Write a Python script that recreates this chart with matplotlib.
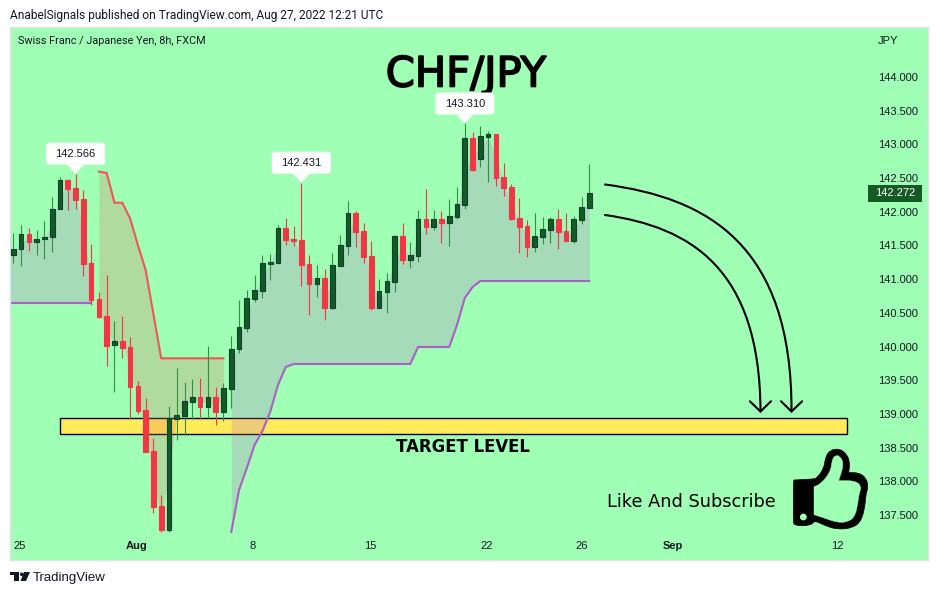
import matplotlib
matplotlib.use('Agg')
import matplotlib.pyplot as plt
import numpy as np
from matplotlib.patches import Rectangle, Polygon, Circle, FancyBboxPatch, FancyArrowPatch, PathPatch
from matplotlib.path import Path
from matplotlib.transforms import Affine2D, IdentityTransform
import matplotlib.patheffects as pe

# CHF/JPY 8h candles
opens = [141.363, 141.443, 141.670, 141.556, 141.591, 141.621, 142.037, 142.471, 142.353, 142.185,
         141.235, 140.705, 140.453, 140.018, 140.077, 139.988, 139.414, 139.058, 138.449, 137.633,
         137.277, 138.929, 138.973, 139.181, 139.246, 139.107, 139.246, 139.033, 139.374, 139.959,
         140.279, 140.710, 140.828, 141.229, 141.244, 141.759, 141.596, 141.581, 141.225, 140.928,
         141.017, 140.572, 141.195, 141.492, 141.982, 141.714, 141.343, 140.572, 140.809, 140.958,
         141.640, 141.284, 141.348, 141.893, 141.774, 141.893, 141.838, 141.922, 142.105, 143.095,
         142.787, 143.114, 143.154, 142.516, 142.367, 141.907, 141.789, 141.477, 141.630, 141.734,
         141.893, 141.714, 141.566, 141.882, 142.060]
highs = [141.680, 141.804, 141.755, 141.729, 141.863, 142.215, 142.511, 142.486, 142.566, 142.319,
         141.517, 140.805, 141.057, 140.379, 140.453, 140.137, 139.488, 139.232, 138.642, 137.796,
         139.117, 139.681, 139.473, 139.518, 139.533, 140.008, 139.399, 139.454, 140.156, 140.690,
         140.839, 141.061, 141.358, 141.373, 141.804, 141.907, 141.789, 142.431, 141.358, 141.210,
         141.151, 141.388, 141.655, 142.160, 142.011, 141.833, 141.566, 141.002, 141.091, 141.655,
         141.833, 141.551, 142.026, 142.338, 142.026, 142.011, 142.189, 142.367, 143.310, 143.184,
         143.273, 143.194, 143.154, 142.724, 142.412, 142.204, 141.878, 141.982, 141.922, 141.922,
         142.041, 141.982, 141.937, 142.219, 142.709]
lows = [141.244, 141.200, 141.422, 141.363, 141.303, 141.407, 142.037, 142.026, 142.041, 141.051,
        140.616, 140.423, 139.715, 139.329, 139.834, 138.929, 138.999, 138.435, 137.534, 137.247,
        137.247, 138.613, 138.687, 138.924, 138.924, 138.939, 138.835, 138.895, 139.088, 139.904,
        140.220, 140.665, 140.725, 140.987, 141.244, 141.507, 141.492, 140.898, 140.468, 140.735,
        140.394, 140.557, 141.195, 141.358, 141.477, 141.240, 140.542, 140.572, 140.498, 140.809,
        141.225, 141.165, 141.254, 141.670, 141.729, 141.536, 141.492, 141.893, 142.041, 142.605,
        142.664, 142.442, 142.382, 142.234, 141.878, 141.388, 141.329, 141.403, 141.522, 141.536,
        141.447, 141.566, 141.536, 141.818, 142.060]
closes = [141.443, 141.665, 141.551, 141.591, 141.621, 142.037, 142.467, 142.338, 142.175, 141.229,
          140.690, 140.438, 140.012, 140.077, 139.978, 139.404, 139.043, 138.435, 137.618, 137.277,
          138.939, 138.979, 139.187, 139.246, 139.102, 139.246, 139.028, 139.380, 139.959, 140.285,
          140.716, 140.834, 141.235, 141.254, 141.755, 141.581, 141.566, 141.210, 140.928, 141.017,
          140.572, 141.205, 141.502, 141.982, 141.700, 141.329, 140.572, 140.820, 140.968, 141.640,
          141.284, 141.354, 141.888, 141.774, 141.888, 141.833, 141.933, 142.111, 143.090, 142.620,
          143.120, 143.150, 142.501, 142.353, 141.893, 141.774, 141.477, 141.636, 141.740, 141.888,
          141.700, 141.566, 141.888, 142.066, 142.274]

# supertrend, three runs
st_up_first = [140.646] * 11
st_down = [142.595, 142.575, 142.134, 142.134, 141.903, 141.507, 141.136, 140.483, 139.825, 139.825,
           139.825, 139.825, 139.825, 139.825, 139.825, 139.825, 139.825]
st_up_second = [137.247, 137.871, 138.197, 138.539, 138.746, 139.028, 139.429, 139.696] + [139.741] * 16 \
    + [139.993] * 5 + [140.319, 140.720, 140.883] + [140.972] * 15
left_mid = 141.33

price_ticks = [137.5, 138.0, 138.5, 139.0, 139.5, 140.0, 140.5, 141.0, 141.5, 142.0, 142.5, 143.0, 143.5, 144.0]
date_pos = [0.86, 15.9, 30.8, 45.8, 60.8, 73.0, 84.7, 105.9]
date_labels = ['25', 'Aug', '8', '15', '22', '26', 'Sep', '12']
last_price = 142.272
target_low, target_high = 138.702, 138.939

BG = '#9effb5'
GREEN_BODY = '#155a24'
GREEN_EDGE = '#0b3f2e'
GREEN_WICK = '#32903f'
RED = '#f23645'
TXT = '#131722'

plt.rcParams['font.family'] = ['Liberation Sans', 'DejaVu Sans']

fig = plt.figure(figsize=(9.38, 5.95), dpi=100, facecolor='white')
ax = fig.add_axes([10 / 938, 35 / 595, 918 / 938, 533 / 595], facecolor=BG)
ax.set_xlim(-0.424, 117.51)
ax.set_ylim(136.832, 144.742)
for s in ax.spines.values():
    s.set_color('#e0e3eb')
    s.set_linewidth(1)

# image pixels -> display
px = Affine2D().scale(1, -1).translate(0, 595)

x = np.arange(len(opens))
o, h, l, c = map(np.array, (opens, highs, lows, closes))
mid = (o + c) / 2

# target zone sits under everything
ax.add_patch(Rectangle((6.0, target_low), 101.1, target_high - target_low,
                       fc='#ffeb5a', ec='black', lw=1, zorder=1))

# supertrend fill and lines
ax.fill_between(np.r_[-1, x[:11]], [st_up_first[0]] * 12, np.r_[left_mid, mid[:11]],
                color='#ba73c8', alpha=0.25, lw=0, zorder=2)
ax.fill_between(x[11:28], st_down, mid[11:28], color='#e27364', alpha=0.25, lw=0, zorder=2)
ax.fill_between(x[28:], st_up_second, mid[28:], color='#ba73c8', alpha=0.25, lw=0, zorder=2)
ax.plot(np.r_[-1, x[:11]], [st_up_first[0]] * 12, color='#aa60c4', lw=1.5, zorder=2.5)
ax.plot(x[11:28], st_down, color='#f2545c', lw=1.5, zorder=2.5)
ax.plot(x[28:], st_up_second, color='#aa60c4', lw=1.5, zorder=2.5)

# candles
up = c >= o
ax.vlines(x[up], l[up], h[up], color=GREEN_WICK, lw=0.8, zorder=3)
ax.vlines(x[~up], l[~up], h[~up], color=RED, lw=0.8, zorder=3)
ax.bar(x[up], np.abs(c - o)[up], bottom=np.minimum(o, c)[up], width=0.6,
       color=GREEN_BODY, edgecolor=GREEN_EDGE, lw=0.8, zorder=3.2)
ax.bar(x[~up], np.abs(c - o)[~up], bottom=np.minimum(o, c)[~up], width=0.6,
       color=RED, edgecolor=RED, lw=0.8, zorder=3.2)

# axis labels live inside the pane
ax.set_yticks(price_ticks)
ax.set_yticklabels(['%.3f' % p for p in price_ticks], fontsize=8, color=TXT)
ax.yaxis.tick_right()
ax.tick_params(axis='y', length=0, pad=-36)
ax.set_xticks(date_pos)
ax.set_xticklabels(date_labels, fontsize=8, color=TXT)
ax.tick_params(axis='x', length=0, pad=-14)
for t in ax.get_xticklabels():
    if t.get_text() in ('Aug', 'Sep'):
        t.set_fontweight('bold')

# price tag
tag_h = 17 * 7.91 / 533
ax.add_patch(Rectangle((0.9346, last_price - tag_h / 2), 0.0588, tag_h, fc=GREEN_BODY, ec='none',
                       transform=ax.get_yaxis_transform(), zorder=6))
ax.text(0.9647, last_price, '%.3f' % last_price, color='white', fontsize=8, ha='center', va='center',
        transform=ax.get_yaxis_transform(), zorder=7)

# high callouts
for i in (8, 37, 58):
    tip = ax.transData.transform((i, highs[i]))
    ax.add_patch(FancyBboxPatch((tip[0] - 29.5, tip[1] + 9), 59, 22, boxstyle='round,pad=0,rounding_size=3',
                                fc='white', ec='none', transform=IdentityTransform(), zorder=8))
    ax.add_patch(Polygon([(tip[0] - 8.5, tip[1] + 9), (tip[0] + 8.5, tip[1] + 9), tip], fc='white', ec='none',
                         transform=IdentityTransform(), zorder=8))
    ax.text(tip[0], tip[1] + 19.5, '%.3f' % highs[i], color=TXT, fontsize=8, ha='center', va='center',
            transform=IdentityTransform(), zorder=9)

# hand drawn arrows
for start, c1, c2, end in [((605, 184.5), (708, 198), (792, 245), (791.5, 413)),
                           ((605, 215), (690, 227), (760, 268), (760.5, 413))]:
    arrow_path = Path([start, c1, c2, end], [Path.MOVETO, Path.CURVE4, Path.CURVE4, Path.CURVE4])
    ax.add_patch(FancyArrowPatch(path=arrow_path, arrowstyle='->,head_length=7.4,head_width=7.6', mutation_scale=1,
                                 color='black', lw=1.5, transform=px, zorder=5))


# thumb icon
def smooth(pts):
    pts = [(780 + a / 3, 440 + b / 3) for a, b in pts]
    mids = [((pts[k][0] + pts[(k + 1) % len(pts)][0]) / 2, (pts[k][1] + pts[(k + 1) % len(pts)][1]) / 2)
            for k in range(len(pts))]
    verts = [mids[-1]]
    codes = [Path.MOVETO]
    for k, p in enumerate(pts):
        verts += [p, mids[k]]
        codes += [Path.CURVE3, Path.CURVE3]
    return Path(verts + [mids[-1]], codes + [Path.CLOSEPOLY])


thumb_outer = [(44, 120), (100, 117), (110, 115), (132, 85), (136, 52), (150, 30), (178, 26), (198, 40), (210, 65),
               (206, 98), (206, 98), (236, 98), (258, 113), (265, 140), (257, 165), (255, 200), (243, 245), (215, 265),
               (170, 268), (135, 257), (103, 241), (95, 256), (42, 258), (40, 240), (40, 120)]
thumb_inner = [(102, 140), (102, 140), (122, 132), (152, 95), (156, 60), (165, 46), (180, 48), (192, 72), (176, 122),
               (176, 122), (226, 122), (245, 140), (236, 165), (234, 190), (224, 232), (200, 247), (170, 247),
               (135, 235), (102, 224), (102, 224)]
ax.add_patch(PathPatch(smooth(thumb_outer), fc='black', ec='black', lw=0.5, transform=px, zorder=5))
ax.add_patch(PathPatch(smooth(thumb_inner), fc=BG, ec=BG, lw=0.3, transform=px, zorder=5.1))
ax.add_patch(Circle((780 + 70 / 3, 440 + 231 / 3), 3.4, fc=BG, ec='none', transform=px, zorder=5.1))

# overlay text
ax.text(466, 74.5, 'CHF/JPY', fontsize=30, family='DejaVu Sans', color='black', ha='center', va='center', transform=px,
        zorder=6, path_effects=[pe.withStroke(linewidth=1.2, foreground='black')])
ax.text(462.5, 447, 'TARGET LEVEL', fontsize=11.9, family='DejaVu Sans', fontweight='bold', color='black', ha='center',
        va='center', transform=px, zorder=6)
ax.text(691.5, 502, 'Like And Subscribe', fontsize=12.8, family='DejaVu Sans', color='black', ha='center', va='center',
        transform=px, zorder=6)
ax.text(18, 41, 'Swiss Franc / Japanese Yen, 8h, FXCM', fontsize=7.8, family='Roboto', color=TXT, ha='left',
        va='center', transform=px, zorder=6)
ax.text(888, 41, 'JPY', fontsize=8, color=TXT, ha='center', va='center', transform=px, zorder=6)

# page header and footer
fig.text(10, 15, 'AnabelSignals published on TradingView.com, Aug 27, 2022 12:21 UTC', fontsize=8.6, family='Roboto',
         color=TXT, ha='left', va='center', transform=px)
fig.text(33, 577.5, 'TradingView', fontsize=9.5, color=TXT, ha='left', va='center', transform=px)
logo_parts = [[(10, 572), (19, 572), (19, 581), (14, 581), (14, 575), (10, 575)],
              [(24, 572), (30, 572), (26, 581), (20.5, 581)]]
for part in logo_parts:
    fig.add_artist(Polygon(part, fc=TXT, ec='none', transform=px))
fig.add_artist(Circle((21.7, 574.3), 1.8, fc=TXT, ec='none', transform=px))

fig.savefig('out.png', dpi=100)
